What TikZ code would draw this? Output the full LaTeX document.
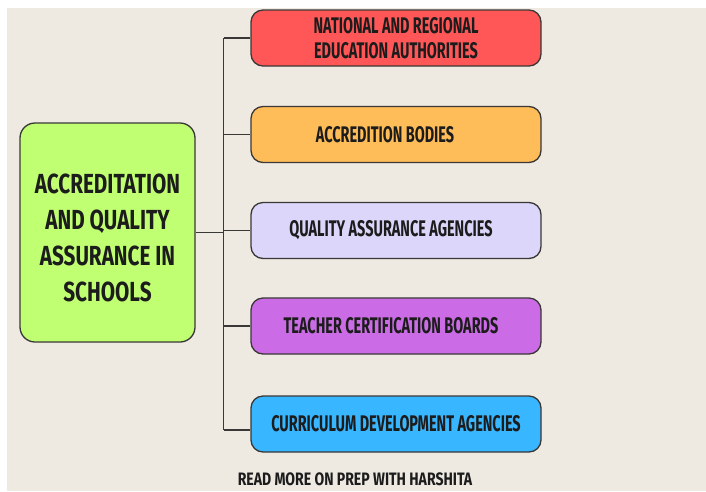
\documentclass[tikz,border=0pt]{standalone}
\usepackage{fontspec}
\newfontfamily\hubfont{Fira Sans}[FakeStretch=0.75]
\newfontfamily\leaffont{Fira Sans}[FakeStretch=0.64]
\newfontfamily\footfont{Fira Sans}[FakeStretch=0.78]
\begin{document}
\definecolor{paper}{HTML}{EEEAE2}
\definecolor{ink}{HTML}{1C1C1C}
\definecolor{wire}{HTML}{3A3836}
\definecolor{cgreen}{HTML}{C1FF72}
\definecolor{cred}{HTML}{FF5757}
\definecolor{corange}{HTML}{FFBD59}
\definecolor{clav}{HTML}{DCD6FA}
\definecolor{cpurple}{HTML}{CB6CE6}
\definecolor{cblue}{HTML}{38B6FF}
\tikzset{
  hubbox/.style={draw=wire, line width=1.3pt, rounded corners=15pt,
    minimum width=175pt, minimum height=219pt},
  hubtext/.style={align=center, text=ink, yshift=-5pt,
    font=\hubfont\bfseries\fontsize{27.6}{36}\selectfont},
  leafbox/.style={draw=wire, line width=1.3pt, rounded corners=12pt,
    minimum width=290pt, minimum height=56pt, align=center, text=ink,
    font=\leaffont\bfseries\fontsize{22.6}{25}\selectfont},
  link/.style={draw=wire, line width=1.4pt},
  credit/.style={text=ink, font=\footfont\bfseries\fontsize{18}{20}\selectfont}
}
\begin{tikzpicture}[x=1pt,y=-1pt]
  % page and paper background
  \useasboundingbox (0,0) rectangle (706,491);
  \fill[white] (0,0) rectangle (706,491);
  \fill[paper] (7,8) rectangle (706,491);

  % central topic
  \node[hubbox, fill=cgreen,
        label={[hubtext]center:ACCREDITATION\\AND QUALITY\\ASSURANCE IN\\SCHOOLS}]
        (hub) at (107.5,232.5) {};

  % branches
  \node[leafbox, fill=cred] (b1) at (396,38)
    {NATIONAL AND REGIONAL\\EDUCATION AUTHORITIES};
  \node[leafbox, fill=corange] (b2) at (396,134.5) {\hspace*{-22pt}ACCREDITION BODIES};
  \node[leafbox, fill=clav] (b3) at (396,230.5) {\hspace*{-10pt}QUALITY ASSURANCE AGENCIES};
  \node[leafbox, fill=cpurple] (b4) at (396,326) {\hspace*{-10pt}TEACHER CERTIFICATION BOARDS};
  \node[leafbox, fill=cblue] (b5) at (396,424) {CURRICULUM DEVELOPMENT AGENCIES};

  % trunk line joining the branches
  \coordinate (ttop) at (223.5,38);
  \coordinate (tbot) at (223.5,430);
  \draw[link] (ttop) -- (tbot);
  \draw[link] (hub.east) -- (hub.east -| ttop);
  \foreach \b in {b1,b2,b3,b4}
    \draw[link] (\b.west) -- (\b.west -| ttop);
  \draw[link] (tbot) -- (tbot -| b5.west);

  % footer
  \node[credit] (foot) at (355,479.5) {READ MORE ON PREP WITH HARSHITA};
\end{tikzpicture}
\end{document}
